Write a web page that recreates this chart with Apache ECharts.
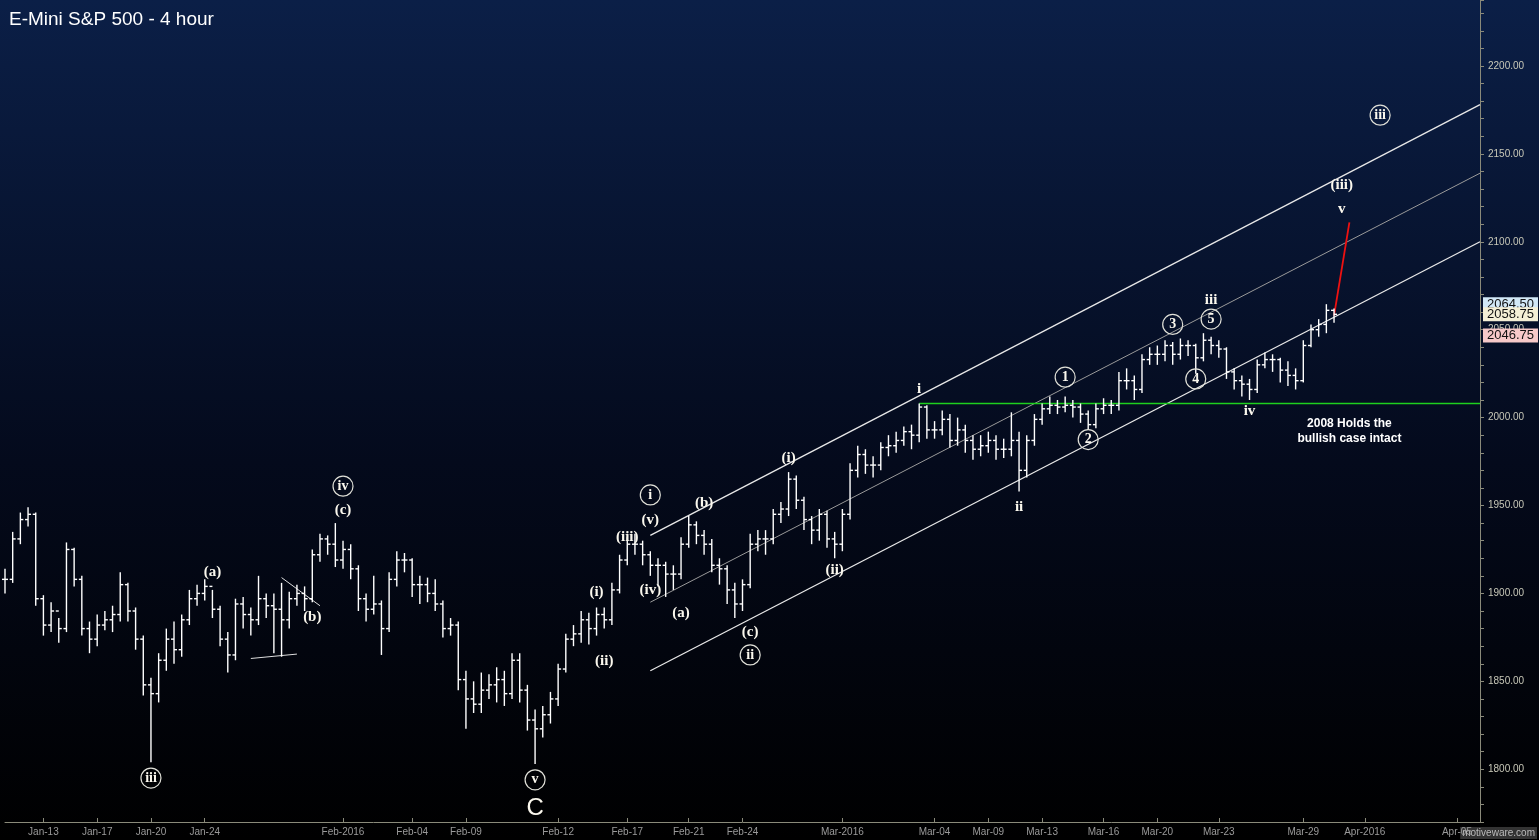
<!DOCTYPE html>
<html>
<head>
<meta charset="utf-8">
<script src="https://cdn.jsdelivr.net/npm/echarts@6/dist/echarts.min.js"></script>
<style>
  html, body { margin: 0; padding: 0; background: #000; }
  #chart { width: 1539px; height: 840px; }
</style>
</head>
<body>
<div id="chart"></div>
<script>

// 4 hour bars (open = previous close)
const closes = [
   1908,1931,1942,1945,1897,1882,1890,1880,1925,1908,1880,1874,1882,1885,1888,1905,1890,1874,1848,1843,1862,1874,
   1868,1885,1897,1900,1904,1891,1874,1865,1894,1888,1885,1897,1893,1891,1885,1897,1900,1897,1922,1931,1928,1919,1925,
   1914,1897,1891,1894,1880,1908,1919,1919,1905,1905,1900,1894,1880,1882,1851,1840,1837,1845,1848,1851,1843,1862,
   1845,1828,1823,1831,1840,1857,1874,1877,1885,1880,1888,1885,1902,1919,1928,1928,1922,1916,1916,1911,
   1911,1928,1939,1933,1928,1916,1914,1902,1894,1905,1928,1931,1931,1945,1948,1965,1953,1942,1936,1945,
   1931,1928,1945,1970,1979,1973,1973,1983,1984,1987,1992,1990,2006,1993,1993,1999,1987,1993,1987,1982,
   1984,1987,1982,1982,1987,1970,1987,1999,2005,2007,2006,2007,2006,2002,1996,2005,2007,2007,2021,2021,
   2016,2033,2036,2036,2041,2036,2041,2041,2034,2044,2041,2039,2026,2021,2019,2016,2030,2033,2033,2027,
   2024,2021,2041,2050,2053,2061,2058.75
];
const highs = [
   1914,1935,1946,1949,1946,1899,1895,1886,1929,1926,1910,1884,1888,1890,1893,1912,1906,1892,1876,1852,1866,1880,
   1884,1888,1902,1905,1908,1902,1893,1878,1897,1898,1892,1910,1900,1900,1906,1901,1905,1904,1925,1934,1933,1940,1930,
   1928,1916,1900,1910,1896,1912,1924,1923,1920,1910,1909,1908,1896,1886,1884,1856,1850,1855,1854,1858,1856,1866,
   1866,1848,1834,1836,1844,1860,1877,1882,1890,1889,1892,1892,1906,1922,1932,1934,1930,1924,1920,1918,
   1916,1932,1944,1941,1936,1931,1920,1916,1906,1908,1934,1936,1936,1948,1952,1969,1967,1955,1944,1948,
   1947,1935,1948,1974,1984,1982,1978,1986,1990,1992,1995,1996,2008,2007,1998,2004,2002,2000,1996,1990,
   1990,1992,1990,1988,2003,1992,1990,2002,2008,2012,2010,2012,2010,2008,2004,2008,2011,2010,2026,2028,
   2024,2036,2040,2041,2044,2043,2045,2044,2042,2048,2046,2044,2040,2028,2024,2022,2033,2037,2036,2034,
   2032,2028,2044,2053,2056,2064.5,2062
];
const lows = [
   1900,1906,1928,1938,1893,1876,1878,1872,1878,1904,1876,1866,1870,1879,1878,1884,1884,1868,1842,1804,1838,1856,
   1860,1864,1882,1893,1896,1886,1870,1855,1862,1880,1876,1882,1886,1866,1864,1880,1893,1890,1895,1918,1922,1915,1914,
   1908,1890,1884,1888,1865,1878,1904,1912,1898,1894,1895,1890,1875,1876,1845,1823,1832,1832,1840,1838,1836,1840,
   1838,1822,1803,1818,1826,1836,1855,1870,1872,1871,1876,1880,1882,1900,1916,1922,1916,1910,1904,1898,
   1902,1908,1926,1928,1922,1912,1905,1894,1886,1890,1903,1924,1922,1928,1940,1944,1948,1936,1928,1930,
   1926,1920,1924,1942,1966,1968,1966,1970,1978,1980,1984,1982,1986,1988,1988,1990,1983,1984,1980,1976,
   1978,1980,1976,1977,1978,1958,1966,1984,1996,2002,2002,2003,2000,1997,1993,1994,2002,2002,2004,2016,
   2010,2014,2030,2030,2032,2030,2033,2035,2025,2032,2036,2034,2022,2016,2012,2010,2014,2028,2026,2020,
   2018,2016,2020,2040,2046,2048,2054
];

const numCats = 193;   // bars plus empty space out to April

// date labels on the time axis
const tickIdx  = [5, 12, 19, 26, 44, 53, 60, 72, 81, 89, 96, 109, 121, 128, 135, 143, 150, 158, 169, 177, 189];
const tickText = ['Jan-13','Jan-17','Jan-20','Jan-24','Feb-2016','Feb-04','Feb-09','Feb-12','Feb-17','Feb-21','Feb-24',
                  'Mar-2016','Mar-04','Mar-09','Mar-13','Mar-16','Mar-20','Mar-23','Mar-29','Apr-2016','Apr-05'];

// channel and trend lines [idx, price]
const chanUpper = [[84, 1933], [192, 2178]];
const chanMid   = [[84, 1895], [192, 2139]];
const chanLower = [[84, 1856], [192, 2100]];
const support   = [[118.75, 2008], [192, 2008]];
const triLower  = [[32.3, 1863], [38.2, 1865.5]];
const triUpper  = [[35.5, 1909], [41, 1893]];
const redLine   = [[173, 2058], [174.5, 2111]];

// wave labels: text, idx, price, circled
const waveText = ['iii','(a)','(b)','(c)','iv','v','(i)','(ii)','(iii)','(v)','i','(iv)','(a)','(b)','(c)','ii',
                  '(i)','(ii)','i','ii','1','2','3','4','5','iii','iv','v','(iii)','iii'];
const waveIdx  = [19, 26.6, 39.7, 43.5, 43.5, 69, 76.6, 78.3, 81.4, 84, 84, 84, 87.5, 90.8, 97, 97,
                  102.2, 108, 118.75, 131.8, 138.4, 140.9, 152.1, 155.3, 156.6, 156.6, 162.1, 174, 174, 178.9];
const wavePrice= [1795, 1912, 1886.5, 1947.5, 1961, 1794, 1900.5, 1861.5, 1932, 1941.5, 1956, 1902, 1889, 1951.5, 1878, 1865,
                  1977, 1913, 2016, 1949, 2023, 1987.5, 2053, 2022, 2056, 2067, 2003.5, 2118.5, 2132, 2172];
const waveCirc = [1,0,0,0,1,1,0,0,0,0,1,0,0,0,0,1, 0,0,0,0,1,1,1,1,1,0,0,0,0,1];

// price tags on the right axis
const tagValues = [2064.50, 2058.75, 2046.75];
const tagColors = ['#d2e8f7', '#f4efd6', '#f6c9c9'];

var cats = [];
for (var i=0; i<numCats; i++) cats.push(String(i));

var ohlc = [];
for (var i=0; i<closes.length; i++)
{
   var open = i > 0 ? closes[i-1] : closes[i];
   ohlc.push([i, open, closes[i], lows[i], highs[i]]);
}

var plain = [], circled = [];
for (var i=0; i<waveText.length; i++)
{
   var p = { value: [waveIdx[i], wavePrice[i]], label: { formatter: waveText[i] } };
   if (waveCirc[i]) circled.push(p); else plain.push(p);
}
// the big C under the February low
plain.push({ value: [69, 1778], label: { formatter: 'C', fontSize: 24, fontWeight: 'normal', fontFamily: 'Liberation Sans' } });

function lineSeries(data, color, width)
{
   return { type: 'line', data: data, symbol: 'none', silent: true,
            lineStyle: { color: color, width: width }, z: 3, animation: false };
}

var supportSeries = lineSeries(support, '#1ed01e', 1.4);
supportSeries.markLine = {
   symbol: 'none', silent: true, animation: false,
   lineStyle: { color: 'rgba(0,0,0,0)', width: 0 },
   data: tagValues.map(function (v, i) {
      return { yAxis: v, label: { show: true, position: 'end', distance: 3, formatter: v.toFixed(2),
         color: '#111', fontSize: 13, fontFamily: 'Liberation Sans',
         backgroundColor: tagColors[i], padding: [1, 4, 0, 4] } };
   })
};

const chart = echarts.init(document.getElementById('chart'));

chart.setOption({
   animation: false,
   backgroundColor: new echarts.graphic.LinearGradient(0, 0, 0, 1, [
      { offset: 0, color: '#0b1f47' },
      { offset: 0.55, color: '#040a1c' },
      { offset: 1, color: '#000000' }
   ]),
   title: {
      text: 'E-Mini S&P 500 - 4 hour', left: 4, top: 5,
      textStyle: { color: '#ffffff', fontSize: 19, fontWeight: 'normal', fontFamily: 'Liberation Sans' }
   },
   grid: { left: 5, right: 59, top: 0, bottom: 18 },
   xAxis: {
      type: 'category', data: cats, boundaryGap: false,
      axisLine: { lineStyle: { color: '#8a8a7a' } },
      axisTick: {
         inside: true, length: 4, lineStyle: { color: '#8a8a7a' },
         interval: function (idx) { return tickIdx.indexOf(idx) >= 0; }
      },
      axisLabel: {
         color: '#9a9a9a', fontSize: 10, fontFamily: 'Liberation Sans', margin: 5,
         interval: function (idx) { return tickIdx.indexOf(idx) >= 0; },
         formatter: function (v, idx) { var k = tickIdx.indexOf(idx); return k >= 0 ? tickText[k] : ''; }
      },
      splitLine: { show: false }
   },
   yAxis: {
      type: 'value', position: 'right', min: 1770, max: 2237.5, interval: 10,
      axisLine: { show: true, lineStyle: { color: '#8a8a7a' } },
      axisTick: { show: true, length: 4, lineStyle: { color: '#8a8a7a' } },
      axisLabel: {
         color: '#c8c8b8', fontSize: 10, fontFamily: 'Liberation Sans', margin: 8,
         formatter: function (v) { return v % 50 === 0 ? v.toFixed(2) : ''; }
      },
      splitLine: { show: false }
   },
   series: [
      {
         type: 'custom', data: ohlc, z: 4,
         renderItem: function (params, api)
         {
            var x = api.value(0);
            var o = api.coord([x, api.value(1)]);
            var c = api.coord([x, api.value(2)]);
            var l = api.coord([x, api.value(3)]);
            var h = api.coord([x, api.value(4)]);
            var st = { stroke: '#ffffff', lineWidth: 1.4 };
            return {
               type: 'group',
               children: [
                  { type: 'line', shape: { x1: h[0], y1: h[1], x2: l[0], y2: l[1] }, style: st },
                  { type: 'line', shape: { x1: o[0] - 3, y1: o[1], x2: o[0], y2: o[1] }, style: st },
                  { type: 'line', shape: { x1: c[0], y1: c[1], x2: c[0] + 3, y2: c[1] }, style: st }
               ]
            };
         }
      },
      lineSeries(chanUpper, '#e8e8e8', 1.3),
      lineSeries(chanMid, '#9a9a9a', 1),
      lineSeries(chanLower, '#e8e8e8', 1.3),
      supportSeries,
      lineSeries(triLower, '#dddddd', 1),
      lineSeries(triUpper, '#dddddd', 1),
      lineSeries(redLine, '#ee1111', 1.8),
      {
         type: 'scatter', data: plain, symbolSize: 2, z: 5, silent: true,
         itemStyle: { color: 'rgba(0,0,0,0)', opacity: 1 },
         label: { show: true, position: 'inside', color: '#fbf8ee', fontSize: 15, fontWeight: 'bold',
                  fontFamily: 'Liberation Serif' }
      },
      {
         type: 'scatter', data: circled, symbol: 'circle', symbolSize: 20, z: 5, silent: true,
         itemStyle: { color: 'rgba(0,0,0,0)', borderColor: '#e0e0d8', borderWidth: 1.2, opacity: 1 },
         label: { show: true, position: 'inside', color: '#fbf8ee', fontSize: 14,
                  fontFamily: 'Liberation Serif', fontWeight: 'bold' }
      },
      {
         type: 'scatter', symbolSize: 2, silent: true, z: 5, itemStyle: { color: 'rgba(0,0,0,0)', opacity: 1 },
         data: [{ value: [174.9, 1992], label: { formatter: '2008 Holds the\nbullish case intact' } }],
         label: { show: true, position: 'inside', color: '#ffffff', fontSize: 12, fontWeight: 'bold',
                  fontFamily: 'Liberation Sans', lineHeight: 15, align: 'center' }
      }
   ],
   graphic: [
      { type: 'text', right: 2, bottom: 1,
        style: { text: 'motiveware.com', fill: '#bbbbbb', font: '10px Liberation Sans',
                 backgroundColor: '#333', padding: [1, 2] } }
   ]
});

</script>
</body>
</html>
